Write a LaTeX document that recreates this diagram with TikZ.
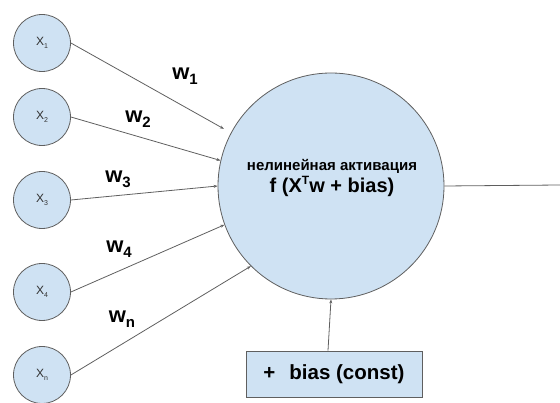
\documentclass[tikz,border=0pt]{standalone}
\usepackage{fontspec}
\setmainfont{Liberation Sans}
\usetikzlibrary{arrows.meta,positioning}
\definecolor{cellblue}{HTML}{CFE2F3}
\definecolor{rimgray}{HTML}{5F5F5F}
\newcommand{\wlab}[1]{\textbf{w}\raisebox{-5pt}{\fontsize{15}{15}\selectfont\bfseries #1}}
\newcommand{\xlab}[1]{X\raisebox{-3pt}{\fontsize{7}{7}\selectfont #1}}

\begin{document}
\begin{tikzpicture}[x=1pt,y=-1pt,
	inp/.style={circle,draw=rimgray,fill=cellblue,line width=0.8pt,minimum size=57pt,inner sep=0pt,
		text=black!80,font=\fontsize{12}{12}\selectfont},
	wire/.style={draw=rimgray,line width=0.8pt,-{Stealth[length=4pt,width=3pt]}},
	wtext/.style={font=\fontsize{22}{22}\selectfont\bfseries}]
	
	\useasboundingbox (0,0) rectangle (560,403);
	
	% inputs
	\node[inp] (x1) at (42,43) {\xlab{1}};
	\node[inp] (x2) at (42,117) {\xlab{2}};
	\node[inp] (x3) at (42,200) {\xlab{3}};
	\node[inp] (x4) at (42,292) {\xlab{4}};
	\node[inp] (xn) at (42,375) {\xlab{n}};
	
	% neuron
	\node[circle,draw=rimgray,fill=cellblue,line width=0.8pt,minimum size=226pt,inner sep=0pt]
	(neuron) at (331,186) {};
	\node[align=center,font=\bfseries] (act) at (332,178)
	{\fontsize{15}{18}\selectfont нелинейная активация\\[1pt]
		\fontsize{20}{22}\selectfont f (X\raisebox{8pt}{\fontsize{12}{12}\selectfont T}w + bias)};
	
	% bias
	\node[draw=rimgray,fill=cellblue,line width=0.8pt,minimum width=176pt,minimum height=46pt,
	font=\fontsize{20.5}{20.5}\selectfont\bfseries] (biasbox) at (334,374)
	{+\hspace{14pt}bias (const)};
	
	\coordinate (out) at (560,185);
	
	\draw[wire,shorten >=8pt] (x1.east) -- (neuron.152);
	\draw[wire] (x2.east) -- (neuron.167);
	\draw[wire] (x3.east) -- (neuron.180);
	\draw[wire] (x4.east) -- (neuron.200);
	\draw[wire] (xn.east) -- (neuron.225);
	\draw[wire] ([xshift=-6pt]biasbox.north) -- (neuron.south);
	\draw[draw=rimgray,line width=0.8pt] (neuron.east) -- (out);
	
	\node[wtext] (w1) at (185,76) {\wlab{1}};
	\node[wtext] (w2) at (138,119) {\wlab{2}};
	\node[wtext] (w3) at (118,179) {\wlab{3}};
	\node[wtext] (w4) at (119,249) {\wlab{4}};
	\node[wtext] (wn) at (122,319) {\wlab{n}};
	
\end{tikzpicture}
\end{document}
